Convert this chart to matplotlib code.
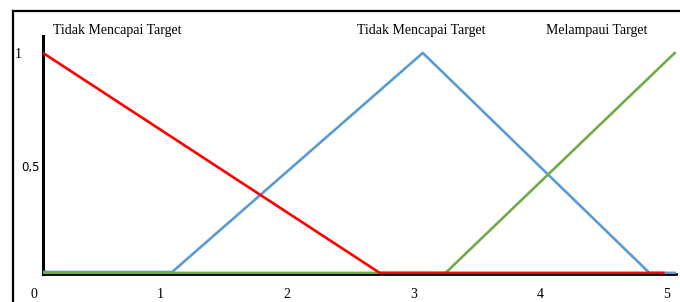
import matplotlib.pyplot as plt
import matplotlib.transforms as mtransforms
from matplotlib.lines import Line2D

# membership functions
red_x = [0, 2.66, 4.9]
red_y = [1, 0, 0]
blue_x = [0, 1.02, 3.0, 4.79, 5]
blue_y = [0.004, 0.004, 1, 0, 0]
green_x = [0, 3.18, 4.99]
green_y = [0, 0, 1]

x_ticks = [0, 1, 2, 3, 4, 5]
y_ticks = [0.5, 1]
y_labels = ['0,5', '1']
titles = ['Tidak Mencapai Target', 'Tidak Mencapai Target', 'Melampaui Target']
title_x = [0.59, 2.99, 4.37]

fig = plt.figure(figsize=(6.8, 3.02), dpi=100)
ax = fig.add_axes([43 / 680, 28 / 302, 633 / 680, 238 / 302])

ax.plot(blue_x, blue_y, color='#5B9BD5', lw=1.9, zorder=3)
ax.plot(green_x, green_y, color='#70AD47', lw=1.9, zorder=4)
ax.plot(red_x, red_y, color='#FF0000', lw=1.9, zorder=5)

ax.set_xlim(0, 5)
ax.set_ylim(-0.005, 1.077)
for s in ['top', 'right']:
    ax.spines[s].set_visible(False)
ax.spines['left'].set_linewidth(2.2)
ax.spines['bottom'].set_linewidth(2.0)

serif = 'Liberation Serif'
ax.set_xticks(x_ticks)
ax.set_xticklabels([str(t) for t in x_ticks], fontfamily=serif, fontsize=10)
ax.tick_params(axis='x', length=0, pad=10)
shift = mtransforms.ScaledTranslation(-9 / 100, 0, fig.dpi_scale_trans)
for lab in ax.get_xticklabels():
    lab.set_transform(lab.get_transform() + shift)

ax.set_yticks(y_ticks)
ax.set_yticklabels(y_labels, fontsize=9.5)
ax.tick_params(axis='y', length=0, pad=1)
labs = ax.get_yticklabels()
labs[0].set_fontfamily('DejaVu Sans')
labs[0].set_fontsize(8.5)
labs[0].set_transform(labs[0].get_transform() + mtransforms.ScaledTranslation(-2 / 100, -3 / 100, fig.dpi_scale_trans))
labs[1].set_fontfamily(serif)
labs[1].set_fontsize(10)
labs[1].set_transform(labs[1].get_transform() + mtransforms.ScaledTranslation(-20 / 100, 0, fig.dpi_scale_trans))

for t, x in zip(titles, title_x):
    ax.text(x, 1.10, t, ha='center', va='center', fontfamily=serif, fontsize=10)

# frame of the screenshot
fig.add_artist(Line2D([13 / 680, 13 / 680], [0, 1 - 11 / 302], color='black', lw=1.6, transform=fig.transFigure))
fig.add_artist(Line2D([13 / 680, 1], [1 - 11 / 302, 1 - 11 / 302], color='black', lw=1.6, transform=fig.transFigure))

fig.savefig('out.png', dpi=100)
